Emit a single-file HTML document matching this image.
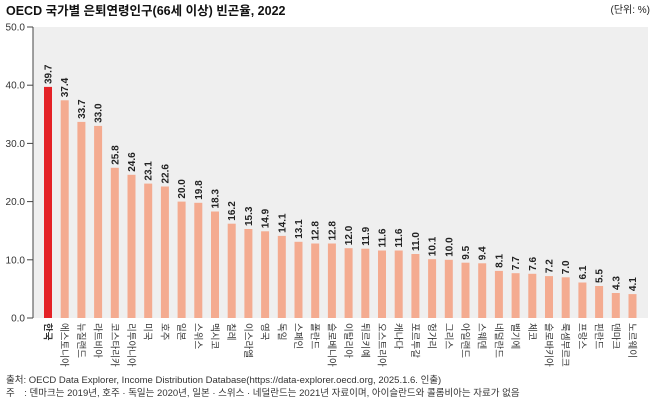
<!DOCTYPE html>
<html><head><meta charset="utf-8"><style>
body{margin:0;background:#fff;}
svg{display:block;font-family:"Liberation Sans","Noto Sans CJK KR",sans-serif;}
.v{font-size:10px;font-weight:bold;fill:#222;}
.c{font-size:9.5px;fill:#333;}
.t{font-size:10px;fill:#333;}
</style></head><body>
<svg width="658" height="401" viewBox="0 0 658 401" xmlns="http://www.w3.org/2000/svg">
<text x="6" y="15" style="font-size:12.5px;font-weight:bold;fill:#111">OECD 국가별 은퇴연령인구(66세 이상) 빈곤율, 2022</text>
<text x="650" y="13" text-anchor="end" style="font-size:10px;fill:#222">(단위: %)</text>
<rect x="33" y="27" width="615" height="291" fill="#efefef"/>
<line x1="33" y1="27" x2="33" y2="318" stroke="#444" stroke-width="1"/>
<g stroke="#444"><line x1="27" y1="27" x2="33" y2="27"/><line x1="27" y1="85.2" x2="33" y2="85.2"/><line x1="27" y1="143.4" x2="33" y2="143.4"/><line x1="27" y1="201.6" x2="33" y2="201.6"/><line x1="27" y1="259.8" x2="33" y2="259.8"/><line x1="27" y1="318" x2="33" y2="318"/></g>
<g class="t" text-anchor="end"><text x="25" y="30.5">50.0</text><text x="25" y="88.7">40.0</text><text x="25" y="146.9">30.0</text><text x="25" y="205.1">20.0</text><text x="25" y="263.3">10.0</text><text x="25" y="321.5">0.0</text></g>
<g fill="#f4ab90">
<rect x="44" y="86.9" width="8" height="231.1" fill="#e42227"/>
<rect x="60.7" y="100.3" width="8" height="217.7"/>
<rect x="77.4" y="121.9" width="8" height="196.1"/>
<rect x="94.1" y="125.9" width="8" height="192.1"/>
<rect x="110.8" y="167.8" width="8" height="150.2"/>
<rect x="127.5" y="174.8" width="8" height="143.2"/>
<rect x="144.2" y="183.6" width="8" height="134.4"/>
<rect x="160.9" y="186.5" width="8" height="131.5"/>
<rect x="177.6" y="201.6" width="8" height="116.4"/>
<rect x="194.3" y="202.8" width="8" height="115.2"/>
<rect x="211" y="211.5" width="8" height="106.5"/>
<rect x="227.7" y="223.7" width="8" height="94.3"/>
<rect x="244.4" y="229" width="8" height="89"/>
<rect x="261.1" y="231.3" width="8" height="86.7"/>
<rect x="277.8" y="235.9" width="8" height="82.1"/>
<rect x="294.5" y="241.8" width="8" height="76.2"/>
<rect x="311.2" y="243.5" width="8" height="74.5"/>
<rect x="327.9" y="243.5" width="8" height="74.5"/>
<rect x="344.6" y="248.2" width="8" height="69.8"/>
<rect x="361.3" y="248.7" width="8" height="69.3"/>
<rect x="378" y="250.5" width="8" height="67.5"/>
<rect x="394.7" y="250.5" width="8" height="67.5"/>
<rect x="411.4" y="254" width="8" height="64"/>
<rect x="428.1" y="259.2" width="8" height="58.8"/>
<rect x="444.8" y="259.8" width="8" height="58.2"/>
<rect x="461.5" y="262.7" width="8" height="55.3"/>
<rect x="478.2" y="263.3" width="8" height="54.7"/>
<rect x="494.9" y="270.9" width="8" height="47.1"/>
<rect x="511.6" y="273.2" width="8" height="44.8"/>
<rect x="528.3" y="273.8" width="8" height="44.2"/>
<rect x="545" y="276.1" width="8" height="41.9"/>
<rect x="561.7" y="277.3" width="8" height="40.7"/>
<rect x="578.4" y="282.5" width="8" height="35.5"/>
<rect x="595.1" y="286" width="8" height="32"/>
<rect x="611.8" y="293" width="8" height="25"/>
<rect x="628.5" y="294.1" width="8" height="23.9"/>
</g>
<g class="v">
<text transform="translate(51.5,84) rotate(-90)">39.7</text>
<text transform="translate(68.2,97.3) rotate(-90)">37.4</text>
<text transform="translate(84.9,118.9) rotate(-90)">33.7</text>
<text transform="translate(101.6,122.9) rotate(-90)">33.0</text>
<text transform="translate(118.3,164.8) rotate(-90)">25.8</text>
<text transform="translate(135,171.8) rotate(-90)">24.6</text>
<text transform="translate(151.7,180.6) rotate(-90)">23.1</text>
<text transform="translate(168.4,183.5) rotate(-90)">22.6</text>
<text transform="translate(185.1,198.6) rotate(-90)">20.0</text>
<text transform="translate(201.8,199.8) rotate(-90)">19.8</text>
<text transform="translate(218.5,208.5) rotate(-90)">18.3</text>
<text transform="translate(235.2,220.7) rotate(-90)">16.2</text>
<text transform="translate(251.9,226) rotate(-90)">15.3</text>
<text transform="translate(268.6,228.3) rotate(-90)">14.9</text>
<text transform="translate(285.3,232.9) rotate(-90)">14.1</text>
<text transform="translate(302,238.8) rotate(-90)">13.1</text>
<text transform="translate(318.7,240.5) rotate(-90)">12.8</text>
<text transform="translate(335.4,240.5) rotate(-90)">12.8</text>
<text transform="translate(352.1,245.2) rotate(-90)">12.0</text>
<text transform="translate(368.8,245.7) rotate(-90)">11.9</text>
<text transform="translate(385.5,247.5) rotate(-90)">11.6</text>
<text transform="translate(402.2,247.5) rotate(-90)">11.6</text>
<text transform="translate(418.9,251) rotate(-90)">11.0</text>
<text transform="translate(435.6,256.2) rotate(-90)">10.1</text>
<text transform="translate(452.3,256.8) rotate(-90)">10.0</text>
<text transform="translate(469,259.7) rotate(-90)">9.5</text>
<text transform="translate(485.7,260.3) rotate(-90)">9.4</text>
<text transform="translate(502.4,267.9) rotate(-90)">8.1</text>
<text transform="translate(519.1,270.2) rotate(-90)">7.7</text>
<text transform="translate(535.8,270.8) rotate(-90)">7.6</text>
<text transform="translate(552.5,273.1) rotate(-90)">7.2</text>
<text transform="translate(569.2,274.3) rotate(-90)">7.0</text>
<text transform="translate(585.9,279.5) rotate(-90)">6.1</text>
<text transform="translate(602.6,283) rotate(-90)">5.5</text>
<text transform="translate(619.3,290) rotate(-90)">4.3</text>
<text transform="translate(636,291.1) rotate(-90)">4.1</text>
</g>
<g class="c">
<text transform="translate(44.5,323) rotate(90)" style="font-weight:bold">한국</text>
<text transform="translate(61.2,323) rotate(90)">에스토니아</text>
<text transform="translate(77.9,323) rotate(90)">뉴질랜드</text>
<text transform="translate(94.6,323) rotate(90)">라트비아</text>
<text transform="translate(111.3,323) rotate(90)">코스타리카</text>
<text transform="translate(128,323) rotate(90)">리투아니아</text>
<text transform="translate(144.7,323) rotate(90)">미국</text>
<text transform="translate(161.4,323) rotate(90)">호주</text>
<text transform="translate(178.1,323) rotate(90)">일본</text>
<text transform="translate(194.8,323) rotate(90)">스위스</text>
<text transform="translate(211.5,323) rotate(90)">멕시코</text>
<text transform="translate(228.2,323) rotate(90)">칠레</text>
<text transform="translate(244.9,323) rotate(90)">이스라엘</text>
<text transform="translate(261.6,323) rotate(90)">영국</text>
<text transform="translate(278.3,323) rotate(90)">독일</text>
<text transform="translate(295,323) rotate(90)">스페인</text>
<text transform="translate(311.7,323) rotate(90)">폴란드</text>
<text transform="translate(328.4,323) rotate(90)">슬로베니아</text>
<text transform="translate(345.1,323) rotate(90)">이탈리아</text>
<text transform="translate(361.8,323) rotate(90)">튀르키예</text>
<text transform="translate(378.5,323) rotate(90)">오스트리아</text>
<text transform="translate(395.2,323) rotate(90)">캐나다</text>
<text transform="translate(411.9,323) rotate(90)">포르투갈</text>
<text transform="translate(428.6,323) rotate(90)">헝가리</text>
<text transform="translate(445.3,323) rotate(90)">그리스</text>
<text transform="translate(462,323) rotate(90)">아일랜드</text>
<text transform="translate(478.7,323) rotate(90)">스웨덴</text>
<text transform="translate(495.4,323) rotate(90)">네덜란드</text>
<text transform="translate(512.1,323) rotate(90)">벨기에</text>
<text transform="translate(528.8,323) rotate(90)">체코</text>
<text transform="translate(545.5,323) rotate(90)">슬로바키아</text>
<text transform="translate(562.2,323) rotate(90)">룩셈부르크</text>
<text transform="translate(578.9,323) rotate(90)">프랑스</text>
<text transform="translate(595.6,323) rotate(90)">핀란드</text>
<text transform="translate(612.3,323) rotate(90)">덴마크</text>
<text transform="translate(629,323) rotate(90)">노르웨이</text>
</g>
<text x="6" y="383" style="font-size:9.5px;fill:#333">출처: OECD Data Explorer, Income Distribution Database(https://data-explorer.oecd.org, 2025.1.6. 인출)</text>
<text x="6" y="396" style="font-size:9.5px;fill:#333">주　: 덴마크는 2019년, 호주 · 독일는 2020년, 일본 · 스위스 · 네덜란드는 2021년 자료이며, 아이슬란드와 콜롬비아는 자료가 없음</text>
</svg>
</body></html>
